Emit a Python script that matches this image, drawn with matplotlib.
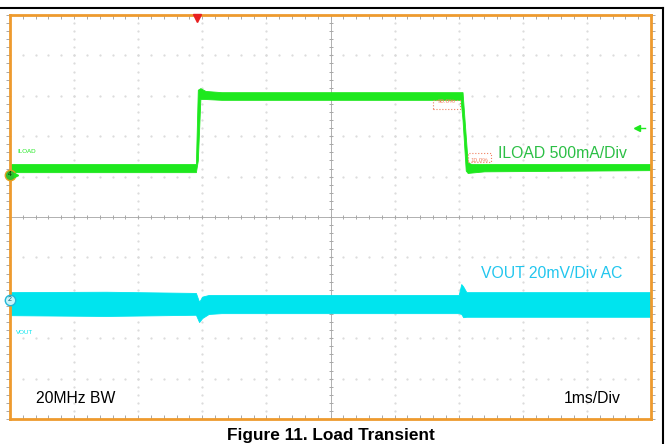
import matplotlib
matplotlib.use('Agg')
import numpy as np
import matplotlib.pyplot as plt
from matplotlib.lines import Line2D
from matplotlib.patches import Rectangle

plt.rcParams['font.family'] = ['Liberation Sans', 'DejaVu Sans']

# scope screen: 10 x 10 divisions, time in ms (1ms/div), traces in divisions
# ILOAD envelope (500mA/div)
iload_t = [0, 2.90, 2.93, 2.97, 3.05, 3.30, 7.03, 7.06, 7.11, 7.14, 7.20, 7.40, 10]
iload_hi = [1.31, 1.31, 3.15, 3.19, 3.12, 3.09, 3.09, 3.09, 2.00, 1.35, 1.31, 1.31, 1.31]
iload_lo = [1.11, 1.11, 1.40, 2.92, 2.92, 2.90, 2.90, 2.40, 1.15, 1.09, 1.10, 1.13, 1.16]

# VOUT envelope (20mV/div AC)
vout_t = [0, 1.5, 2.90, 2.95, 3.00, 3.10, 3.30, 5.0, 7.00, 7.04, 7.07, 7.12, 7.30, 10]
vout_hi = [-1.86, -1.85, -1.88, -2.10, -1.97, -1.93, -1.93, -1.93, -1.93, -1.66, -1.72, -1.86, -1.86, -1.86]
vout_lo = [-2.43, -2.45, -2.42, -2.60, -2.50, -2.40, -2.38, -2.38, -2.38, -2.40, -2.48, -2.47, -2.47, -2.47]

trig_t = 2.92
orange = '#EE9A2E'
trace_green = '#1EE81E'
trace_cyan = '#00E4EE'
tick_c = '#a8a8a8'

fig = plt.figure(figsize=(6.69, 4.44), dpi=100)
ax = fig.add_axes([10 / 669, 25 / 444, 641 / 669, 404 / 444])
ax.set_xlim(0, 10)
ax.set_ylim(-5, 5)
ax.set_xticks([])
ax.set_yticks([])
for s in ax.spines.values():
    s.set_color(orange)
    s.set_linewidth(2)
    s.set_zorder(6)

# dotted graticule
minor_x = np.arange(0, 10.01, 0.2)
minor_y = np.arange(-5, 5.01, 0.2)
for k in range(1, 10):
    if k == 5:
        continue
    ax.plot(np.full_like(minor_y, k), minor_y, ls='none', marker='.', ms=1.2, color='#dadada', zorder=1)
for k in range(-4, 5):
    if k == 0:
        continue
    ax.plot(minor_x, np.full_like(minor_x, k), ls='none', marker='.', ms=1.2, color='#dadada', zorder=1)

# centre cross with ticks
ax.axhline(0, color='#b0b0b0', lw=0.7, zorder=1)
ax.axvline(5, color='#b0b0b0', lw=0.7, zorder=1)
ax.plot(minor_x, np.zeros_like(minor_x), ls='none', marker='|', ms=3.5, color=tick_c, mew=0.7, zorder=1)
ax.plot(np.full_like(minor_y, 5), minor_y, ls='none', marker='_', ms=3.5, color=tick_c, mew=0.7, zorder=1)

# frame ticks
ax.plot(minor_x, np.full_like(minor_x, 5), ls='none', marker=3, ms=3, color=tick_c, mew=0.7, clip_on=False)
ax.plot(minor_x, np.full_like(minor_x, -5), ls='none', marker=2, ms=3, color=tick_c, mew=0.7, clip_on=False)
ax.plot(np.zeros_like(minor_y), minor_y, ls='none', marker=0, ms=3, color=tick_c, mew=0.7, clip_on=False)
ax.plot(np.full_like(minor_y, 10), minor_y, ls='none', marker=1, ms=3, color=tick_c, mew=0.7, clip_on=False)

# traces
ax.fill_between(iload_t, iload_lo, iload_hi, color=trace_green, lw=0.6, ec=trace_green, zorder=3)
ax.fill_between(vout_t, vout_lo, vout_hi, color=trace_cyan, lw=0.6, ec=trace_cyan, zorder=3)

# cursors for 90% / 10%
ax.add_patch(Rectangle((6.60, 2.68), 0.42, 0.22, fill=False, ec='#f08060', ls=':', lw=0.8, zorder=4))
ax.text(6.81, 2.87, '90.0%', color='#f08060', fontsize=4.5, ha='center', va='center', zorder=4)
ax.add_patch(Rectangle((7.15, 1.36), 0.36, 0.22, fill=False, ec='#f08060', ls=':', lw=0.8, zorder=4))
ax.text(7.33, 1.40, '10.0%', color='#f08060', fontsize=4.5, ha='center', va='center', zorder=4)

# small channel labels
ax.text(0.11, 1.61, 'ILOAD', color=trace_green, fontsize=4.5, va='center')
ax.text(0.09, -2.87, 'VOUT', color=trace_cyan, fontsize=4.5, va='center')

# channel markers and trigger
ax.plot([0.0], [1.04], marker='o', ms=7.5, mfc='#30c030', mec='#e0a020', mew=1, clip_on=False, zorder=7)
ax.text(0.0, 1.04, '4', fontsize=5, ha='center', va='center', color='#103010', clip_on=False, zorder=8)
ax.plot([0.10], [1.04], marker='>', ms=3, color=trace_green, clip_on=False, zorder=7)
ax.plot([0.0], [-2.05], marker='o', ms=7.5, mfc='#c8f4fa', mec='#20b8d8', mew=1, clip_on=False, zorder=7)
ax.text(0.0, -2.05, '2', fontsize=5, ha='center', va='center', color='#106070', clip_on=False, zorder=8)
ax.plot([trig_t], [4.93], marker='v', ms=6, color='#e82020', clip_on=False, zorder=7)
ax.plot([9.78, 9.90], [2.2, 2.2], color=trace_green, lw=1)
ax.plot([9.78], [2.2], marker='<', ms=4, color=trace_green)

# annotations
ax.text(9.63, 1.58, 'ILOAD 500mA/Div', color='#2BBF45', fontsize=11.3, ha='right', va='center', zorder=5)
ax.text(9.56, -1.40, 'VOUT 20mV/Div AC', color='#22C6EE', fontsize=11.3, ha='right', va='center', zorder=5)
ax.text(0.41, -4.50, '20MHz BW', color='black', fontsize=11.3, va='center', zorder=5)
ax.text(9.52, -4.50, '1ms/Div', color='black', fontsize=11.3, ha='right', va='center', zorder=5)

# outer box and caption
fig.add_artist(Line2D([0, 663 / 669], [1 - 8 / 444, 1 - 8 / 444], color='black', lw=1.5))
fig.add_artist(Line2D([663 / 669, 663 / 669], [0, 1 - 8 / 444], color='black', lw=1.5))
fig.text(331 / 669, 4.5 / 444, 'Figure 11. Load Transient', fontsize=12.4, fontweight='bold',
         ha='center', va='baseline')

fig.savefig('out.png', dpi=100)
